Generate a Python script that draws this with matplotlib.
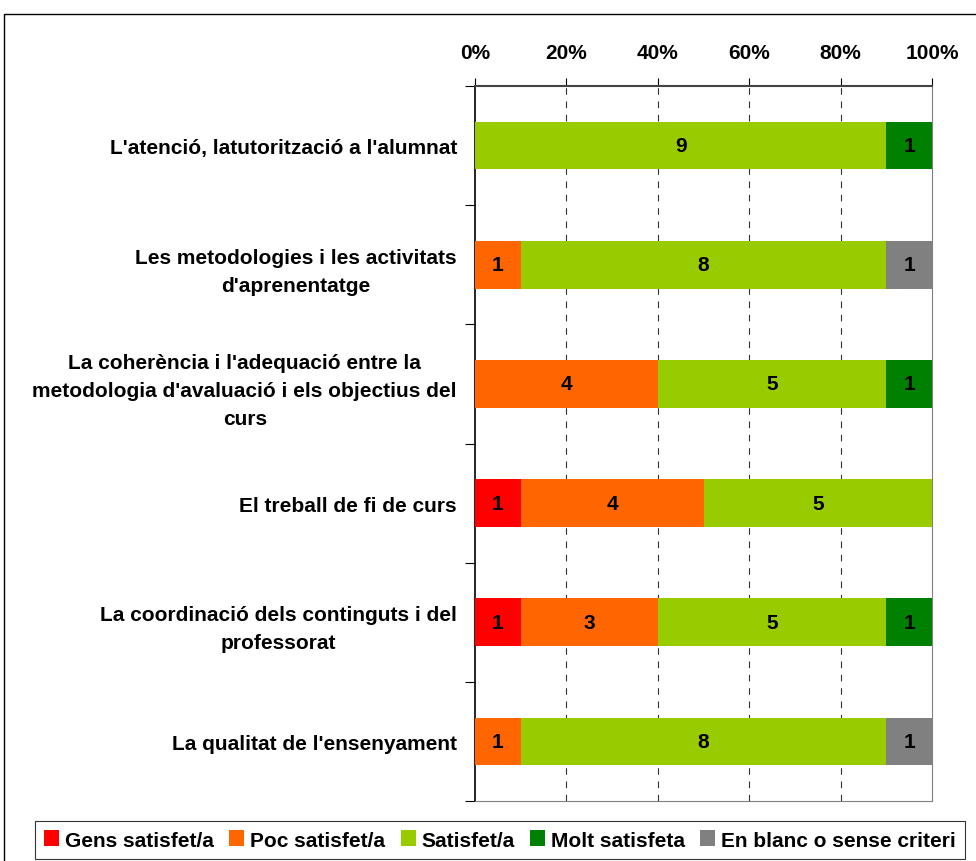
import matplotlib
matplotlib.use("Agg")
import matplotlib.pyplot as plt
from matplotlib.patches import Rectangle
import numpy as np

plt.rcParams['font.family'] = ['Liberation Sans', 'DejaVu Sans']
plt.rcParams['font.weight'] = 'bold'

categories = [
    "L'atenció, latutorització a l'alumnat",
    "Les metodologies i les activitats\nd'aprenentatge",
    "La coherència i l'adequació entre la\nmetodologia d'avaluació i els objectius del\ncurs",
    "El treball de fi de curs",
    "La coordinació dels continguts i del\nprofessorat",
    "La qualitat de l'ensenyament",
]
series_names = ["Gens satisfet/a", "Poc satisfet/a", "Satisfet/a", "Molt satisfeta",
                "En blanc o sense criteri"]
gens = [0, 0, 0, 1, 1, 0]
poc = [0, 1, 4, 4, 3, 1]
satisfet = [9, 8, 5, 5, 5, 8]
molt = [1, 0, 1, 0, 1, 0]
blanc = [0, 1, 0, 0, 0, 1]
colors = ["#FF0000", "#FF6600", "#99CC00", "#008000", "#808080"]
xticklabels = ["0%", "20%", "40%", "60%", "80%", "100%"]

FS = 15

data = np.array([gens, poc, satisfet, molt, blanc], dtype=float)
totals = data.sum(axis=0)
pct = data / totals * 100

fig = plt.figure(figsize=(9.76, 8.62), dpi=100)
ax = fig.add_axes([475/976, 1-802/862, (932-475)/976, (802-87)/862])

y = np.arange(len(categories))
left = np.zeros(len(categories))
for i, name in enumerate(series_names):
    ax.barh(y, pct[i], left=left, height=0.4, color=colors[i], label=name, zorder=3)
    for j in range(len(categories)):
        if data[i, j] > 0:
            ax.text(left[j] + pct[i, j]/2, y[j], f"{int(data[i, j])}", ha='center', va='center',
                    fontsize=FS, fontweight='bold', color='black', zorder=4)
    left += pct[i]

ax.set_xlim(0, 100)
ax.set_ylim(len(categories)-0.5, -0.5)
ax.xaxis.tick_top()
ax.set_xticks([0, 20, 40, 60, 80, 100])
ax.set_xticklabels(xticklabels, fontsize=FS, fontweight='bold')
ax.tick_params(axis='x', direction='out', length=6, width=0.8, pad=11, colors='black')
for xv in [20, 40, 60, 80]:
    ax.axvline(xv, color='#333333', lw=0.8, ls=(0, (6, 6)), zorder=1)

ax.set_yticks(y)
ax.set_yticklabels(categories, fontsize=FS, fontweight='bold', multialignment='center',
                   linespacing=1.6)
ax.tick_params(axis='y', which='major', length=0, pad=13)
ax.set_yticks(np.arange(-0.5, len(categories)), minor=True)
ax.tick_params(axis='y', which='minor', direction='out', length=7, width=0.8, color='black')

ax.spines['left'].set_color('black')
ax.spines['left'].set_linewidth(1.2)
ax.spines['top'].set_color('#444444')
ax.spines['top'].set_linewidth(1.5)
for s in ['right', 'bottom']:
    ax.spines[s].set_color('#808080')
    ax.spines[s].set_linewidth(0.8)

leg = fig.legend(loc='upper left', bbox_to_anchor=(35/976, 1-822/862 - 0.06, 930/976, 0.06),
                 mode='expand', ncol=5,
                 fontsize=FS, frameon=True, fancybox=False, edgecolor='black',
                 handlelength=0.72, handleheight=0.8, handletextpad=0.28, columnspacing=0.5,
                 borderaxespad=0, borderpad=0.45)
leg.get_frame().set_linewidth(0.8)

fig.add_artist(Rectangle((4/976, -0.1), 1.1, 1.1 - 15/862, transform=fig.transFigure,
                         fill=False, edgecolor='black', lw=1))

fig.savefig("out.png", dpi=100)
